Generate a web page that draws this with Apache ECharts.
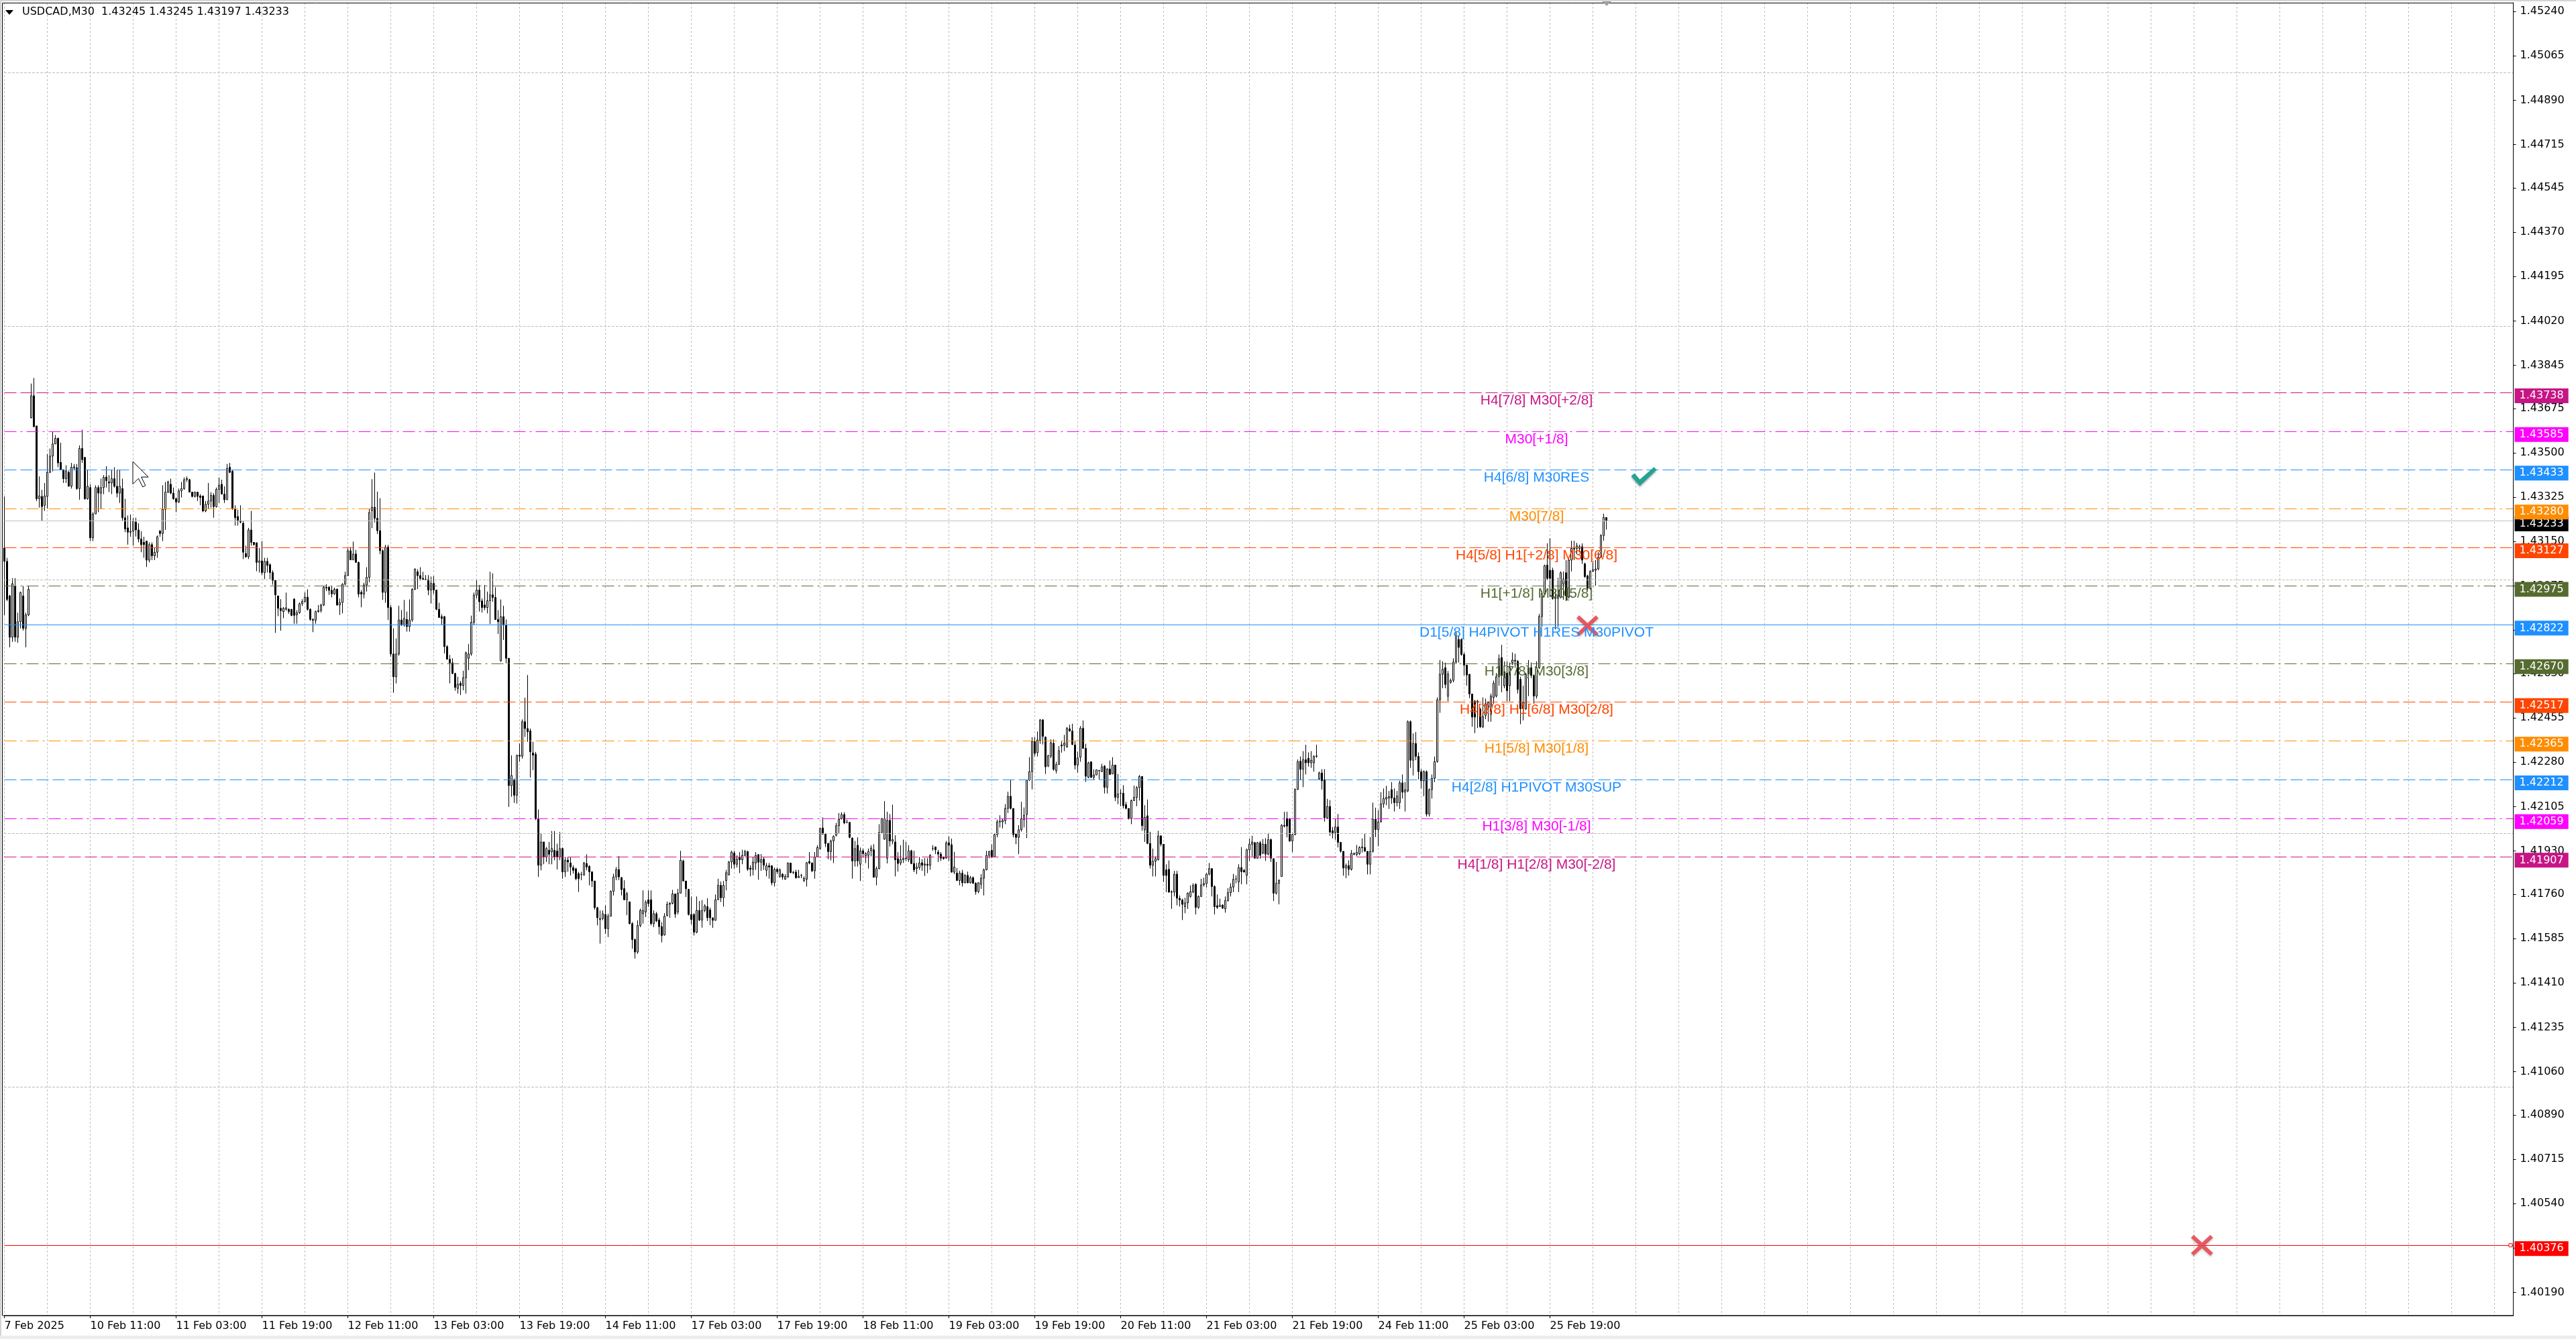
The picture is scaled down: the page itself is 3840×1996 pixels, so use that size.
<!DOCTYPE html>
<html><head><meta charset="utf-8">
<script src="https://cdn.jsdelivr.net/npm/echarts/dist/echarts.min.js"></script>
<style>html,body{margin:0;padding:0;background:#fff;overflow:hidden}#c{width:3840px;height:1996px}</style>
</head><body><div id="c"></div>
<script>
// ---------------- DATA ----------------
// Bars are M30 candles, values in points above 1.40000 : [open, high, low, close]
// bars 0-123 (7 Feb 19:00 .. 12 Feb 12:30)
const block1 = [
[3125,3328,2860,3072],[3072,3086,2915,2922],[2936,2940,2733,2773],[2773,3006,2755,2984],[2975,3006,2755,2773],
[2773,2870,2751,2834],[2834,2953,2808,2949],[2936,2975,2799,2808],[2808,2870,2733,2861],[2861,2975,2856,2962],
[3638,3773,3636,3725],[3725,3795,3600,3603],[3606,3606,3310,3319],[3319,3407,3284,3330],[3328,3354,3231,3288],
[3293,3381,3271,3330],[3328,3495,3280,3423],[3423,3517,3420,3487],[3487,3584,3427,3535],[3535,3570,3535,3557],
[3557,3560,3443,3460],[3462,3540,3434,3434],[3434,3434,3381,3398],[3398,3451,3381,3429],[3423,3430,3368,3368],
[3368,3460,3359,3443],[3440,3456,3434,3445],[3441,3456,3354,3359],[3359,3529,3315,3517],[3517,3591,3460,3473],
[3482,3482,3315,3319],[3319,3434,3315,3368],[3363,3376,3152,3165],[3165,3266,3152,3259],[3259,3372,3259,3363],
[3363,3372,3266,3341],[3341,3398,3280,3363],[3363,3412,3337,3403],[3405,3447,3363,3390],[3385,3412,3345,3381],
[3381,3434,3337,3398],[3398,3443,3363,3368],[3368,3434,3324,3341],[3341,3434,3302,3368],[3359,3398,3231,3244],
[3244,3319,3187,3200],[3204,3253,3138,3187],[3187,3257,3169,3191],[3191,3244,3134,3231],[3227,3244,3170,3196],
[3196,3222,3147,3160],[3160,3191,3108,3138],[3147,3169,3086,3138],[3152,3152,3050,3077],[3077,3147,3068,3138],
[3138,3147,3077,3094],[3094,3125,3077,3108],[3108,3174,3086,3169],[3191,3196,3169,3182],[3182,3372,3152,3277],
[3277,3385,3196,3345],[3345,3390,3341,3385],[3376,3398,3337,3341],[3341,3363,3315,3319],[3319,3324,3266,3306],
[3306,3359,3302,3350],[3350,3385,3324,3359],[3359,3403,3354,3394],[3394,3407,3385,3398],[3394,3398,3345,3345],
[3345,3345,3324,3328],[3328,3347,3324,3345],[3345,3345,3310,3328],[3330,3337,3293,3324],[3330,3330,3266,3271],
[3271,3310,3266,3297],[3297,3381,3280,3310],[3310,3345,3284,3332],[3332,3341,3244,3288],[3288,3363,3284,3356],
[3356,3403,3302,3372],[3376,3394,3337,3337],[3337,3368,3302,3315],[3315,3456,3315,3438],[3443,3460,3420,3423],
[3427,3434,3275,3280],[3280,3293,3213,3244],[3249,3275,3213,3231],[3233,3293,3222,3227],[3222,3231,3081,3108],
[3103,3134,3086,3090],[3090,3204,3081,3196],[3196,3271,3134,3147],[3147,3147,3134,3138],[3145,3147,3033,3068],
[3068,3125,3028,3074],[3074,3152,3019,3028],[3028,3086,3002,3072],[3072,3086,3028,3056],[3059,3064,3002,3028],
[3028,3037,2980,2997],[2997,2997,2790,2940],[2936,2936,2856,2887],[2887,2923,2799,2878],[2874,2892,2848,2887],
[2883,2949,2878,2889],[2883,2887,2865,2874],[2883,2883,2856,2859],[2923,2927,2826,2859],[2861,2880,2826,2870],
[2870,2910,2865,2905],[2905,2923,2896,2914],[2914,2950,2910,2931],[2931,2962,2878,2883],[2883,2887,2838,2843],
[2843,2848,2793,2840],[2840,2878,2826,2874],[2874,2900,2870,2878],[2878,2905,2870,2900],[2900,2975,2896,2970],
[2966,2982,2955,2970],[2970,2975,2940,2958],[2958,2975,2930,2944],[2944,2968,2940,2962]
];
// bars 124-243
const block2 = [
[2963,2963,2897,2900],[2900,2926,2861,2910],[2910,2986,2867,2982],[2982,3031,2979,3016],[3016,3123,3016,3114],
[3114,3128,3078,3078],[3078,3150,3078,3101],[3101,3117,3068,3068],[3068,3071,2930,2943],[2950,2959,2891,2943],
[2943,2988,2926,2979],[2979,3049,2953,3009],[3009,3280,2990,3265],[3272,3396,3203,3285],[3285,3422,3225,3242],
[3242,3347,3180,3193],[3193,3321,3100,3114],[3114,3120,2920,2950],[2950,3137,2909,3128],[3128,3137,2841,2890],
[2890,2900,2696,2707],[2707,2808,2554,2617],[2617,2768,2591,2707],[2707,2897,2700,2841],[2841,2880,2817,2821],
[2821,2920,2815,2847],[2843,2874,2795,2815],[2815,2922,2795,2841],[2841,2966,2834,2962],[2962,3045,2959,3041],
[3031,3041,2963,3016],[3016,3049,2996,3005],[3005,3031,2999,3001],[3001,3018,2999,3001],[3001,3018,2939,2959],
[2959,3012,2906,2985],[2985,3014,2943,2959],[2959,2959,2880,2883],[2883,2909,2851,2851],[2854,2864,2821,2847],
[2854,2857,2709,2736],[2736,2742,2686,2686],[2686,2703,2591,2672],[2672,2690,2628,2630],[2630,2633,2562,2575],
[2571,2617,2551,2588],[2591,2600,2545,2583],[2583,2641,2564,2613],[2613,2716,2551,2712],[2690,2746,2643,2707],
[2707,2858,2700,2832],[2832,2949,2821,2939],[2939,2999,2926,2959],[2959,2979,2874,2913],[2916,2926,2870,2890],
[2900,2979,2880,2890],[2890,2953,2867,2917],[2917,3031,2825,2940],[2940,3025,2913,2930],[2930,2970,2841,2843],
[2843,2880,2786,2834],[2680,2922,2676,2854],[2854,2897,2762,2821],[2821,2843,2670,2690],[2690,2690,2104,2188],
[2188,2307,2144,2228],[2212,2216,2120,2150],[2150,2308,2117,2308],[2308,2354,2282,2304],[2304,2449,2295,2440],
[2440,2535,2380,2413],[2413,2624,2361,2400],[2404,2413,2220,2321],[2317,2361,2249,2308],[2312,2321,2052,2058],
[2058,2094,1828,1874],[1874,1999,1854,1966],[1966,1966,1878,1907],[1907,1946,1887,1940],[1933,1966,1878,1917],
[1927,2009,1878,1940],[1933,2009,1894,1907],[1930,1959,1857,1907],[1907,2005,1894,1940],[1940,1944,1821,1848],
[1848,1907,1828,1894],[1894,1907,1848,1887],[1883,1907,1834,1867],[1865,1874,1841,1854],[1860,1864,1815,1821],
[1841,1848,1769,1821],[1838,1848,1815,1838],[1835,1887,1835,1883],[1881,1917,1854,1867],[1870,1874,1795,1848],
[1848,1850,1788,1812],[1812,1812,1699,1707],[1707,1710,1637,1667],[1660,1696,1565,1664],[1664,1696,1657,1683],
[1680,1716,1604,1624],[1624,1683,1591,1673],[1673,1775,1673,1771],[1771,1841,1755,1828],[1828,1867,1815,1857],
[1857,1910,1815,1828],[1825,1828,1755,1778],[1782,1815,1736,1738],[1738,1769,1677,1762],[1730,1730,1641,1644],
[1644,1650,1545,1581],[1581,1585,1506,1532],[1532,1657,1525,1637],[1637,1703,1630,1696],[1683,1775,1644,1696],
[1690,1736,1670,1729],[1738,1775,1710,1723],[1738,1775,1637,1644],[1644,1696,1630,1683],[1683,1690,1650,1654]
];
// bars 244-363
const block3 = [
[1658,1667,1601,1632],[1632,1650,1570,1597],[1599,1685,1597,1673],[1676,1731,1672,1720],[1720,1729,1667,1724],
[1724,1777,1720,1761],[1761,1761,1667,1682],[1690,1781,1680,1764],[1764,1931,1764,1894],[1891,1896,1810,1812],
[1812,1812,1749,1781],[1779,1781,1676,1680],[1680,1751,1641,1660],[1680,1685,1597,1610],[1610,1751,1606,1696],
[1696,1733,1654,1658],[1658,1737,1628,1696],[1696,1720,1689,1714],[1711,1744,1654,1667],[1698,1707,1638,1667],
[1667,1667,1627,1657],[1657,1759,1656,1738],[1738,1821,1738,1795],[1795,1810,1729,1746],[1746,1812,1711,1795],
[1814,1856,1775,1845],[1836,1891,1834,1887],[1887,1931,1861,1926],[1922,1931,1861,1878],[1878,1913,1865,1898],
[1907,1926,1843,1896],[1896,1935,1878,1913],[1913,1935,1909,1928],[1928,1931,1852,1858],[1863,1874,1830,1858],
[1858,1907,1834,1887],[1883,1926,1856,1913],[1916,1918,1817,1886],[1886,1918,1852,1896],[1898,1905,1856,1874],
[1854,1883,1830,1872],[1872,1883,1821,1867],[1872,1874,1795,1805],[1805,1865,1790,1858],[1858,1865,1839,1849],
[1830,1861,1825,1856],[1839,1843,1817,1828],[1819,1839,1817,1830],[1828,1885,1825,1883],[1883,1883,1843,1845],
[1846,1852,1839,1845],[1847,1856,1821,1825],[1825,1856,1825,1831],[1834,1840,1823,1834],[1814,1830,1808,1823],
[1819,1887,1790,1884],[1889,1926,1878,1883],[1883,1885,1847,1852],[1852,1926,1821,1907],[1907,1953,1907,1944],
[1940,2023,1935,2019],[2021,2063,1995,1997],[1997,2001,1946,1960],[1960,1962,1898,1928],[1928,1975,1893,1970],
[1970,1992,1883,1988],[1992,2041,1988,2030],[2030,2080,2001,2056],[2058,2083,2054,2074],[2074,2083,2036,2041],
[2044,2054,2039,2044],[2043,2045,1981,1984],[1981,1984,1821,1891],[1891,1970,1869,1940],[1953,1984,1869,1891],
[1878,1944,1812,1931],[1931,1940,1905,1920],[1912,1926,1883,1920],[1913,1940,1861,1928],[1931,1953,1909,1942],
[1935,1957,1825,1827],[1827,1869,1795,1861],[1861,2036,1858,2003],[2003,2060,2003,2058],[1977,2127,1975,2058],
[1902,2085,1881,2051],[2051,2076,1948,1970],[1969,2113,1957,1975],[1966,1992,1830,1896],[1900,1926,1849,1881],
[1883,1953,1874,1896],[1896,1975,1883,1902],[1900,1966,1891,1902],[1896,1953,1887,1931],[1931,1935,1878,1881],
[1881,1931,1847,1856],[1861,1883,1839,1867],[1865,1907,1856,1883],[1884,1898,1852,1874],[1874,1902,1832,1879],
[1878,1902,1843,1874],[1874,1918,1856,1913],[1940,1953,1931,1940],[1946,1948,1918,1935],[1926,1935,1887,1918],
[1918,1926,1891,1902],[1905,1909,1896,1900],[1902,1970,1900,1962],[1963,1988,1891,1953],[1955,1979,1845,1847],
[1847,1927,1839,1867],[1843,1863,1812,1814],[1814,1852,1795,1843],[1843,1856,1790,1805],[1805,1839,1803,1834],
[1834,1849,1803,1805],[1805,1832,1802,1825],[1825,1830,1801,1803],[1803,1807,1758,1770],[1770,1807,1764,1805]
];
// bars 364-483
const block4 = [
[1799,1839,1781,1823],[1823,1861,1755,1856],[1856,1931,1854,1913],[1913,1931,1902,1928],[1933,1957,1902,1907],
[1907,2001,1905,1995],[1995,2054,1984,2045],[2045,2071,2023,2048],[2045,2058,2019,2051],[2050,2115,2036,2098],
[2098,2164,2080,2146],[2146,2212,2094,2098],[2098,2098,1984,1995],[1997,2001,1957,1984],[1984,2032,1918,2014],
[2014,2124,2007,2058],[2054,2102,2023,2071],[2074,2212,1981,2210],[2210,2300,2206,2243],[2243,2379,2173,2362],
[2362,2379,2303,2315],[2318,2401,2303,2368],[2366,2450,2353,2447],[2447,2450,2350,2382],[2379,2382,2234,2262],
[2265,2309,2261,2306],[2304,2370,2296,2357],[2355,2370,2247,2252],[2247,2282,2236,2271],[2271,2344,2271,2326],
[2348,2362,2318,2344],[2347,2388,2324,2355],[2340,2419,2338,2414],[2412,2428,2401,2403],[2403,2432,2348,2350],
[2348,2362,2252,2269],[2269,2322,2239,2297],[2300,2423,2282,2414],[2414,2445,2333,2335],[2335,2353,2203,2225],
[2221,2282,2217,2278],[2282,2282,2217,2221],[2221,2252,2212,2230],[2230,2252,2230,2250],[2248,2250,2212,2247],
[2243,2274,2243,2262],[2265,2269,2157,2181],[2181,2256,2157,2254],[2254,2287,2230,2232],[2234,2300,2234,2269],
[2269,2269,2127,2142],[2142,2234,2115,2155],[2158,2173,2107,2158],[2158,2190,2098,2109],[2113,2124,2094,2098],
[2098,2098,2054,2058],[2058,2133,2036,2129],[2129,2188,2127,2142],[2142,2186,2107,2180],[2180,2230,2129,2224],
[2224,2224,2010,2030],[2014,2111,1966,2063],[2069,2133,1957,1960],[1960,2006,1861,1874],[1874,1940,1830,1890],
[1890,1909,1830,1900],[1896,2010,1893,1990],[1990,1992,1948,1957],[1957,1957,1808,1834],[1856,1878,1768,1834],
[1858,1893,1766,1768],[1768,1775,1702,1770],[1768,1852,1751,1839],[1839,1852,1716,1744],[1744,1755,1711,1737],
[1737,1742,1658,1720],[1711,1746,1685,1726],[1726,1767,1702,1764],[1751,1795,1746,1770],[1768,1803,1764,1795],
[1799,1803,1680,1708],[1708,1755,1702,1751],[1751,1821,1749,1797],[1797,1825,1790,1802],[1802,1843,1786,1839],
[1839,1883,1834,1861],[1861,1861,1751,1790],[1790,1795,1680,1711],[1715,1759,1702,1708],[1711,1742,1711,1717],
[1717,1720,1702,1705],[1702,1751,1687,1735],[1735,1784,1731,1766],[1766,1803,1751,1788],[1788,1840,1768,1819],
[1820,1834,1803,1820],[1808,1878,1768,1865],[1865,1946,1799,1849],[1854,1860,1847,1847],[1834,1940,1799,1935],
[1935,1979,1891,1957],[1957,1990,1909,1966],[1963,1966,1900,1902],[1902,1966,1900,1963],[1963,1970,1900,1913],
[1922,1977,1918,1957],[1957,1981,1891,1918],[1918,2001,1913,1975],[1975,1979,1887,1902],[1900,1900,1733,1764],
[1764,1887,1759,1803],[1803,1819,1720,1814],[1830,2036,1828,2032],[2028,2085,2023,2032],[2058,2085,1984,2028],
[2058,2060,1968,1969],[1970,2001,1926,1995],[1995,2177,1992,2173],[2173,2291,2171,2282],[2284,2303,2212,2252]
];
// bars 484-597 (last bar = current)
const block5 = [
[2253,2324,2182,2290],[2290,2349,2232,2278],[2296,2319,2263,2278],[2278,2324,2258,2288],[2278,2308,2243,2303],
[2303,2349,2298,2305],[2215,2243,2212,2238],[2238,2253,2172,2207],[2212,2253,2046,2061],[2061,2136,2056,2106],
[2106,2131,1990,2005],[2010,2025,1980,1999],[2003,2056,1975,2025],[2025,2076,1944,1964],[1964,1966,1924,1929],
[1929,1929,1833,1863],[1863,1881,1823,1873],[1873,1894,1833,1858],[1858,1934,1853,1921],[1917,1924,1914,1921],
[1917,1954,1909,1925],[1919,1949,1914,1944],[1943,1980,1924,1946],[1944,2000,1929,1929],[1929,1929,1838,1878],
[1878,1985,1838,1929],[1929,2121,1924,2056],[2056,2101,1985,2015],[2015,2091,1949,2045],[2045,2162,2043,2116],
[2116,2177,2101,2137],[2135,2187,2111,2142],[2139,2167,2096,2145],[2172,2202,2116,2139],[2139,2177,2086,2121],
[2121,2167,2106,2147],[2121,2207,2096,2199],[2199,2232,2137,2162],[2162,2202,2086,2172],[2167,2445,2162,2440],
[2440,2445,2258,2288],[2288,2394,2228,2354],[2354,2399,2288,2303],[2303,2319,2212,2243],[2243,2253,2177,2207],
[2207,2248,2146,2243],[2243,2248,2066,2076],[2076,2177,2066,2172],[2172,2232,2137,2217],[2217,2303,2202,2283],
[2283,2536,2278,2526],[2526,2683,2475,2627],[2627,2678,2572,2647],[2653,2673,2572,2587],[2540,2640,2521,2628],
[2595,2610,2590,2603],[2603,2690,2595,2675],[2675,2794,2668,2779],[2764,2779,2673,2733],[2764,2769,2700,2705],
[2705,2713,2622,2663],[2663,2663,2582,2624],[2627,2627,2533,2549],[2549,2549,2420,2458],[2521,2526,2395,2458],
[2516,2526,2415,2521],[2490,2495,2415,2420],[2420,2536,2415,2460],[2465,2531,2450,2511],[2496,2521,2440,2516],
[2470,2551,2440,2541],[2536,2602,2511,2592],[2541,2632,2536,2617],[2617,2705,2582,2688],[2693,2743,2556,2622],
[2582,2678,2572,2638],[2632,2678,2521,2562],[2582,2673,2521,2653],[2673,2713,2663,2683],[2679,2708,2653,2683],
[2678,2683,2551,2567],[2607,2617,2430,2491],[2491,2582,2445,2516],[2491,2632,2486,2627],[2627,2683,2541,2653],
[2653,2673,2612,2622],[2622,2627,2511,2541],[2541,2678,2531,2653],[2653,2865,2648,2855],[2855,2956,2814,2946],
[2946,3059,2936,3055],[3057,3143,2997,3005],[3037,3163,2931,3005],[3037,3047,2921,2926],[2926,2956,2804,2931],
[2926,3007,2814,2936],[2931,3032,2926,3027],[2982,3032,2921,3002],[3027,3077,2916,2936],[2931,3082,2926,3077],
[3077,3153,3032,3123],[3120,3153,3077,3123],[3123,3145,3100,3133],[3123,3138,3108,3130],[3130,3143,3062,3077],
[3062,3067,3007,3012],[3015,3019,2956,2966],[2966,3037,2961,3032],[3032,3067,3032,3039],[3037,3077,2976,3042],
[3042,3108,3037,3088],[3088,3179,3087,3174],[3174,3260,3153,3245],[3245,3245,3197,3233]
];

// time-axis labels, one every 32 bars starting at bar 0
const timeLabels = ['7 Feb 2025','10 Feb 11:00','11 Feb 03:00','11 Feb 19:00','12 Feb 11:00','13 Feb 03:00',
  '13 Feb 19:00','14 Feb 11:00','17 Feb 03:00','17 Feb 19:00','18 Feb 11:00','19 Feb 03:00','19 Feb 19:00',
  '20 Feb 11:00','21 Feb 03:00','21 Feb 19:00','24 Feb 11:00','25 Feb 03:00','25 Feb 19:00'];
// price-axis labels
const priceTicks = [1.45240,1.45065,1.44890,1.44715,1.44545,1.44370,1.44195,1.44020,1.43845,1.43675,1.43500,
  1.43325,1.43150,1.42975,1.42800,1.42630,1.42455,1.42280,1.42105,1.41930,1.41760,1.41585,1.41410,1.41235,
  1.41060,1.40890,1.40715,1.40540,1.40365,1.40190];
// Murrey-type levels
const levelPrices = [1.43738,1.43585,1.43433,1.43280,1.43127,1.42975,1.42822,1.42670,1.42517,1.42365,1.42212,1.42059,1.41907];
const levelNames = ['H4[7/8] M30[+2/8]','M30[+1/8]','H4[6/8] M30RES','M30[7/8]','H4[5/8] H1[+2/8] M30[6/8]',
  'H1[+1/8] M30[5/8]','D1[5/8] H4PIVOT H1RES M30PIVOT','H1[7/8] M30[3/8]','H4[3/8] H1[6/8] M30[2/8]',
  'H1[5/8] M30[1/8]','H4[2/8] H1PIVOT M30SUP','H1[3/8] M30[-1/8]','H4[1/8] H1[2/8] M30[-2/8]'];
const stopLevel = 1.40376;
// signal marks [bar index, price]
const checkMarks = [[611, 1.43407]];
const crossMarks = [[590, 1.42818], [819, 1.40376]];

// ---------------- STYLE / LAYOUT ----------------
const TOTAL_SLOTS = 936;       // bar slots across the chart window (includes right shift)
const LABEL_BAR = 571;         // bar slot where level captions are centred
const Y_MIN = 1.40099, Y_MAX = 1.452745;
const FONT = 'DejaVu Sans';
const CAP_FONT = 'Liberation Sans';
const COL = {violet:'#C71585', magenta:'#FF00FF', blue:'#1E90FF', orange:'#FF8C00', orangered:'#FF4500', olive:'#556B2F'};
const DASH = [18,6], DASHDOT = [18,6,3,6];
const levelStyle = [[COL.violet,DASH],[COL.magenta,DASHDOT],[COL.blue,DASH],[COL.orange,DASHDOT],[COL.orangered,DASH],
  [COL.olive,DASHDOT],[COL.blue,'solid'],[COL.olive,DASHDOT],[COL.orangered,DASH],[COL.orange,DASHDOT],
  [COL.blue,DASH],[COL.magenta,DASHDOT],[COL.violet,DASH]];
const GRID_COLOR = '#BDBDBD', GRID_DASH = [3,3];

// ---------------- BUILD ----------------
const P = v => +(1.4 + v / 100000).toFixed(5);
const ohlc = [].concat(block1, block2, block3, block4, block5);
const candleData = ohlc.map(r => [P(r[0]), P(r[3]), P(r[2]), P(r[1])]);
const lastBar = ohlc[ohlc.length - 1];
const bid = P(lastBar[3]);
const categories = Array.from({length: TOTAL_SLOTS}, (_, i) => String(i));
const titleText = 'USDCAD,M30  ' + lastBar.map(v => P(v).toFixed(5)).join(' ');
const isTimeLabel = (i) => i % 32 === 0 && i / 32 < timeLabels.length;

const boxLabel = (bg, p) => ({show:true, position:'end', distance:2, offset:[0,5], formatter:p.toFixed(5), color:'#fff',
  backgroundColor:bg, padding:[4,7,2,7], fontSize:16, lineHeight:16, fontFamily:FONT});

const lineData = [{yAxis: bid, lineStyle:{color:'#C0C0C0', type:'solid', width:1}, label: boxLabel('#000000', bid)}]
  .concat(levelPrices.map((p, i) => ({yAxis:p, lineStyle:{color:levelStyle[i][0], type:levelStyle[i][1], width:1},
    label: boxLabel(levelStyle[i][0], p)})))
  .concat([{yAxis: stopLevel, lineStyle:{color:'#FF0000', type:'solid', width:1}, label: boxLabel('#FF0000', stopLevel)}]);

const captionData = levelPrices.map((p, i) => ({coord:[categories[LABEL_BAR], p], symbol:'rect', symbolSize:1,
  itemStyle:{color:'rgba(0,0,0,0)'},
  label:{show:true, position:'inside', offset:[0,12], formatter:levelNames[i], color:levelStyle[i][0],
    fontSize:21, fontFamily:CAP_FONT}}));

const CHECK_PATH = 'path://M0,13 L5,9 L13,18 L34,0 L38,4 L13,27 Z';
const CROSS_PATH = 'path://M4,0 L16,11 L28,0 L32,4 L20,15 L32,26 L28,30 L16,19 L4,30 L0,26 L12,15 L0,4 Z';
const signalData = checkMarks.map(m => ({coord:[categories[m[0]], m[1]], symbol:CHECK_PATH, symbolSize:[38,28],
    symbolKeepAspect:false, itemStyle:{color:'#23A393', shadowColor:'rgba(0,0,0,0.35)', shadowBlur:3, shadowOffsetY:2}}))
  .concat(crossMarks.map(m => ({coord:[categories[m[0]], m[1]], symbol:CROSS_PATH, symbolSize:[33,31],
    symbolKeepAspect:false, itemStyle:{color:'rgba(232,72,80,0.88)', shadowColor:'rgba(0,0,0,0.25)', shadowBlur:3, shadowOffsetY:2}})))
  .concat([{coord:[categories[TOTAL_SLOTS - 2], stopLevel], symbol:'rect', symbolSize:[5,5],
    itemStyle:{color:'#fff', borderColor:'#FF0000', borderWidth:1}}]);

const chart = echarts.init(document.getElementById('c'), null, {renderer:'canvas', width:3840, height:1996});
chart.setOption({
  animation:false,
  backgroundColor:'#ffffff',
  textStyle:{fontFamily:FONT},
  title:{text:titleText, left:33, top:10, padding:0,
    textStyle:{fontFamily:FONT, fontSize:16, fontWeight:'normal', color:'#000'}},
  grid:{left:6.5, right:93.5, top:4, bottom:35, containLabel:false},
  xAxis:{type:'category', data:categories, boundaryGap:false,
    axisLine:{show:true, lineStyle:{color:'#000', width:1}},
    axisTick:{show:true, length:4, lineStyle:{color:'#000'}, interval:(i) => isTimeLabel(i)},
    axisLabel:{show:true, interval:(i) => isTimeLabel(i),
      formatter:(v) => timeLabels[Number(v) / 32] || '', align:'left', margin:8, color:'#000',
      fontFamily:FONT, fontSize:16, hideOverlap:false},
    splitLine:{show:true, interval:(i) => i % 16 === 0, lineStyle:{color:GRID_COLOR, width:1, type:GRID_DASH}}},
  yAxis:{type:'value', position:'right', min:Y_MIN, max:Y_MAX, scale:true,
    axisLine:{show:true, lineStyle:{color:'#000', width:1}},
    axisTick:{show:true, length:4, lineStyle:{color:'#000'}, customValues:priceTicks},
    axisLabel:{show:true, customValues:priceTicks, formatter:(v) => v.toFixed(5), margin:10, color:'#000',
      fontFamily:FONT, fontSize:16},
    splitLine:{show:false}},
  series:[
    {type:'line', name:'grid', data:[], z:0, silent:true,
      markLine:{silent:true, symbol:['none','none'], animation:false, label:{show:false},
        lineStyle:{color:GRID_COLOR, width:1, type:GRID_DASH},
        data:priceTicks.map(v => ({yAxis:v}))}},
    {type:'line', name:'levels', data:[], z:1, silent:true,
      markLine:{silent:true, symbol:['none','none'], animation:false, precision:5, data:lineData},
      markPoint:{silent:true, animation:false, data:captionData}},
    {type:'candlestick', name:'USDCAD', data:candleData, z:3, barWidth:2, large:false, clip:true,
      itemStyle:{color:'#FFFFFF', color0:'#000000', borderColor:'#000000', borderColor0:'#000000', borderWidth:1}},
    {type:'line', name:'signals', data:[], z:5, silent:true,
      markPoint:{silent:true, animation:false, label:{show:false}, data:signalData}}
  ],
  graphic:[
    {type:'rect', shape:{x:3.5, y:4.5, width:3743, height:1956.5}, style:{fill:null, stroke:'#000', lineWidth:1}, z:100, silent:true},
    {type:'rect', shape:{x:0, y:0, width:3840, height:2}, style:{fill:'#D4D4D4'}, z:100, silent:true},
    {type:'rect', shape:{x:0, y:0, width:2, height:1996}, style:{fill:'#D4D4D4'}, z:100, silent:true},
    {type:'rect', shape:{x:0, y:1991, width:3840, height:5}, style:{fill:'#ECECEC'}, z:100, silent:true},
    {type:'polygon', shape:{points:[[8,15],[20,15],[14,22]]}, style:{fill:'#000'}, z:100, silent:true},
    {type:'polygon', shape:{points:[[2388,2],[2402,2],[2395,9]]}, style:{fill:'#A0A0A0'}, z:100, silent:true},
    {type:'polygon', shape:{points:[[198,688],[198,721.6],[206.4,713.2],[212.7,725.8],[216.9,723.7],[210.6,711.1],[221.1,711.1]]},
      style:{fill:'#fff', stroke:'#000', lineWidth:1}, z:100, silent:true}
  ]
});
</script></body></html>
